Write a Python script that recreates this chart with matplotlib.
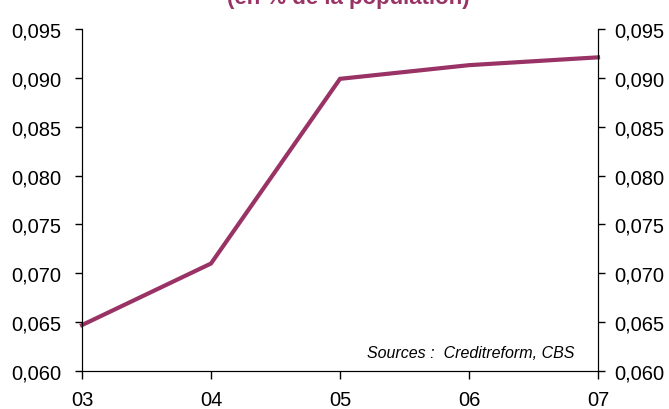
import matplotlib
matplotlib.use("Agg")
import matplotlib.pyplot as plt
import numpy as np

plt.rcParams['font.family'] = ['Liberation Sans', 'DejaVu Sans']

annees = ["03", "04", "05", "06", "07"]
valeurs = [0.0647, 0.0710, 0.0899, 0.0913, 0.0921]
yticks = [0.060, 0.065, 0.070, 0.075, 0.080, 0.085, 0.090, 0.095]
couleur = "#993366"

fig = plt.figure(figsize=(6.69, 4.10), dpi=100)
ax = fig.add_axes([82 / 669, 1 - 372 / 410, (598 - 82) / 669, (372 - 30) / 410])

x = np.arange(len(annees))
ax.plot(x, valeurs, color=couleur, linewidth=3, solid_joinstyle='miter', clip_on=False)

ax.set_xlim(0, len(annees) - 1)
ax.set_ylim(0.060, 0.095)
ax.set_xticks(x)
ax.set_xticklabels(annees)
ax.set_yticks(yticks)
etiquettes = [f"{v:.3f}".replace(".", ",") for v in yticks]
ax.set_yticklabels(etiquettes)

ax2 = ax.twinx()
ax2.set_ylim(0.060, 0.095)
ax2.set_yticks(yticks)
ax2.set_yticklabels(etiquettes)

for a in (ax, ax2):
    a.spines['top'].set_visible(False)
    a.tick_params(axis='both', direction='out', length=5, width=1, labelsize=14.5)
ax.tick_params(axis='y', pad=10)
ax2.tick_params(axis='y', pad=7)
ax.tick_params(axis='x', length=6, pad=8)

ax.text(0.955, 0.055, "Sources :  Creditreform, CBS", transform=ax.transAxes,
        ha='right', va='center', fontsize=11.5, style='italic')

# titre coupé en haut, comme sur l'original
fig.text(348 / 669, 1 - 4 / 410, "(en % de la population)", ha='center', va='baseline',
         fontsize=16, fontweight='bold', color=couleur)

fig.savefig("out.png", dpi=100)
